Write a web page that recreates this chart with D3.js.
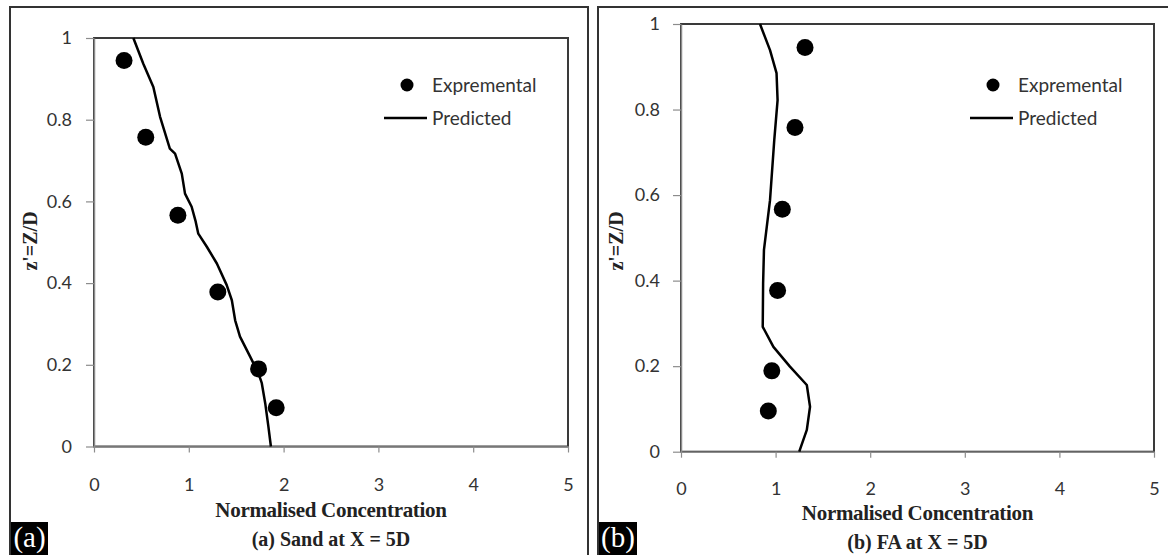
<!DOCTYPE html>
<html>
<head>
<meta charset="utf-8">
<script src="https://cdn.jsdelivr.net/npm/d3@7"></script>
<style>
  body { margin: 0; background: #fff; }
  svg { display: block; }
</style>
</head>
<body>
<script>
// values
const xTicks = [0, 1, 2, 3, 4, 5]
const yTicks = [0, 0.2, 0.4, 0.6, 0.8, 1]

const sandExp = [[0.317, 0.945], [0.546, 0.757], [0.885, 0.566], [1.306, 0.378], [1.736, 0.19], [1.922, 0.095]]
const sandPred = [
    [0.415, 1], [0.52, 0.937], [0.626, 0.88], [0.697, 0.807], [0.80, 0.729], [0.855, 0.717],
    [0.926, 0.668], [0.96, 0.619], [1.03, 0.587], [1.07, 0.553], [1.10, 0.521], [1.19, 0.489],
    [1.296, 0.448], [1.40, 0.395], [1.454, 0.358], [1.489, 0.309], [1.54, 0.269], [1.647, 0.22],
    [1.735, 0.179], [1.77, 0.155], [1.806, 0.106], [1.84, 0.048], [1.866, 0]
]

const faExp = [[1.311, 0.945], [1.205, 0.758], [1.071, 0.567], [1.021, 0.377], [0.96, 0.189], [0.923, 0.095]]
const faPred = [
    [0.835, 1], [0.941, 0.939], [1.01, 0.885], [1.021, 0.822], [0.986, 0.729], [0.941, 0.588],
    [0.877, 0.472], [0.868, 0.394], [0.864, 0.292], [0.977, 0.245], [1.152, 0.199], [1.33, 0.156],
    [1.364, 0.105], [1.33, 0.051], [1.25, 0]
]

const xTitle = "Normalised Concentration"
const yTitle = "z'=Z/D"
const legendNames = ["Expremental", "Predicted"]

const sans = "Lato, 'Open Sans', sans-serif"
const serif = "'Liberation Serif', 'Times New Roman', serif"

const svg = d3.select("body")
    .append("svg")
    .attr("width", 1168)
    .attr("height", 555)

function drawPanel(p) {
    // outer frame of the figure part
    svg.append("rect")
        .attr("x", p.fx).attr("y", 7)
        .attr("width", p.fw).attr("height", 600)
        .attr("fill", "none")
        .attr("stroke", "#333")
        .attr("stroke-width", 2)

    let x = d3.scaleLinear().domain([0, 5]).range([p.left, p.right])
    let y = d3.scaleLinear().domain([0, 1]).range([p.bottom, p.top])

    // plot area border (top / right show dark)
    svg.append("rect")
        .attr("x", p.left).attr("y", p.top)
        .attr("width", p.right - p.left).attr("height", p.bottom - p.top)
        .attr("fill", "none")
        .attr("stroke", "#3a3a3a")
        .attr("stroke-width", 2)

    let xAxis = svg.append("g")
        .attr("transform", `translate(0, ${p.bottom})`)
        .call(d3.axisBottom(x).tickValues(xTicks).tickFormat(String).tickSize(6).tickSizeOuter(0).tickPadding(p.xPad))
    let yAxis = svg.append("g")
        .attr("transform", `translate(${p.left}, 0)`)
        .call(d3.axisLeft(y).tickValues(yTicks).tickFormat(String).tickSize(8).tickSizeOuter(0).tickPadding(p.yPad))

    for (let a of [xAxis, yAxis]) {
        a.select(".domain").attr("stroke", "#8c8c8c").attr("stroke-width", 1.5)
        a.selectAll(".tick line").attr("stroke", "#8c8c8c").attr("stroke-width", 1.2)
        a.selectAll(".tick text")
            .attr("fill", "#333")
            .style("font-family", sans)
            .style("font-size", "18px")
    }

    let line = d3.line()
        .x(d => x(d[0]))
        .y(d => y(d[1]))

    svg.append("path")
        .datum(p.pred)
        .attr("d", line)
        .attr("fill", "none")
        .attr("stroke", "#000")
        .attr("stroke-width", 2.5)
        .attr("stroke-linejoin", "round")

    svg.append("g")
        .selectAll("circle")
        .data(p.exp)
        .enter()
        .append("circle")
        .attr("cx", d => x(d[0]))
        .attr("cy", d => y(d[1]))
        .attr("r", 8.5)
        .attr("fill", "#000")

    // legend
    let lg = svg.append("g").attr("transform", `translate(${p.lx}, 85)`)
    lg.append("circle").attr("cx", 23).attr("cy", 0).attr("r", 6.5).attr("fill", "#000")
    lg.append("line").attr("x1", 0).attr("x2", 43).attr("y1", 33).attr("y2", 33)
        .attr("stroke", "#000").attr("stroke-width", 2.5)
    lg.selectAll("text")
        .data(legendNames)
        .enter()
        .append("text")
        .attr("x", 48)
        .attr("y", (d, i) => i * 33 + 7)
        .attr("fill", "#333")
        .style("font-family", sans)
        .style("font-size", "19px")
        .text(d => d)

    // titles
    let cx = (p.left + p.right) / 2
    svg.append("text")
        .attr("x", cx).attr("y", p.titleY)
        .attr("text-anchor", "middle")
        .style("font-family", serif)
        .style("font-weight", "bold")
        .style("font-size", "21px")
        .style("letter-spacing", "-0.3px")
        .attr("fill", "#222")
        .text(xTitle)
    svg.append("text")
        .attr("x", cx).attr("y", p.titleY + 29)
        .attr("text-anchor", "middle")
        .style("font-family", serif)
        .style("font-weight", "bold")
        .style("font-size", "20px")
        .attr("fill", "#222")
        .text(p.caption)

    svg.append("text")
        .attr("transform", `translate(${p.yTitleX}, 241) rotate(-90)`)
        .attr("text-anchor", "middle")
        .style("font-family", serif)
        .style("font-weight", "bold")
        .style("font-size", "20px")
        .attr("fill", "#222")
        .text(yTitle)

    // panel letter tag
    svg.append("rect")
        .attr("x", p.fx + 1).attr("y", 522)
        .attr("width", p.tagW).attr("height", 40)
        .attr("fill", "#000")
    svg.append("text")
        .attr("x", p.fx + 1 + p.tagW / 2).attr("y", 547)
        .attr("text-anchor", "middle")
        .style("font-family", serif)
        .style("font-size", "29px")
        .attr("fill", "#fff")
        .text(p.tag)
}

drawPanel({
    fx: 10, fw: 578,
    left: 94, right: 568, top: 38, bottom: 446.5,
    xPad: 26, yPad: 14,
    exp: sandExp, pred: sandPred,
    lx: 384, titleY: 517, yTitleX: 37,
    caption: "(a) Sand at X = 5D", tag: "(a)", tagW: 37
})

drawPanel({
    fx: 598, fw: 600,
    left: 681, right: 1154, top: 24, bottom: 451.7,
    xPad: 25, yPad: 13,
    exp: faExp, pred: faPred,
    lx: 970, titleY: 520, yTitleX: 623,
    caption: "(b) FA at X = 5D", tag: "(b)", tagW: 38
})
</script>
</body>
</html>
